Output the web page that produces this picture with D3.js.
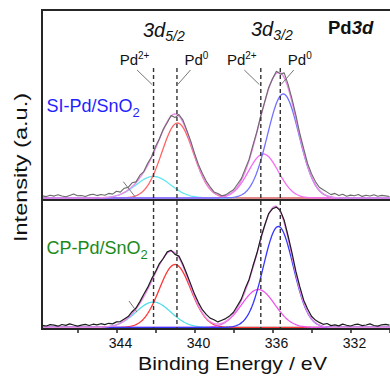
<!DOCTYPE html>
<html>
<head>
<style>
  body {
    margin: 0;
    background-color: #ffffff;
  }

  text {
    font-family: "Liberation Sans", Arial, sans-serif;
  }
</style>
  <script src="https://d3js.org/d3.v7.min.js"></script>
</head>
<body>
<script>
// Pd 3d XPS spectra, SI-Pd/SnO2 (top) and CP-Pd/SnO2 (bottom)

// raw spectra, binding energy starts at 347.8 eV, 0.2 eV per point
const eStart = 347.8;
const eStep = 0.2;

const siRaw = [
  2.1, 1.4, 2.8, 1.9, 3.2, 2.0, 1.2, 2.6, 3.9, 2.2,
  2.5, 1.5, 3.1, 3.8, 2.4, 3.5, 2.7, 4.6, 3.9, 6.8,
  5.9, 9.8, 10.6, 15.2, 16.1, 22.8, 26.4, 34.8, 41.2, 51.5,
  59.3, 68.9, 75.2, 82.6, 80.4, 83.5, 78.2, 68.1, 57.4, 44.9,
  33.6, 24.8, 16.9, 11.2, 6.1, 4.4, 2.2, 3.1, 5.7, 8.3,
  13.8, 19.4, 29.1, 38.6, 53.2, 66.4, 82.5, 96.1, 110.3, 119.2,
  126.8, 123.9, 125.1, 113.6, 99.2, 82.8, 64.5, 49.3, 34.6, 24.2,
  16.4, 10.8, 8.2, 5.9, 3.4, 4.6, 2.5, 3.7, 1.8, 2.9,
  2.2, 3.5, 1.6, 2.8, 2.0, 3.3, 1.7, 2.6, 2.1, 1.5
];

const cpRaw = [
  2.2, 1.5, 2.9, 2.4, 1.3, 3.0, 2.1, 3.6, 2.5, 1.4,
  2.3, 3.1, 2.0, 3.3, 2.6, 3.8, 2.9, 4.2, 3.6, 5.6,
  5.9, 8.4, 10.9, 15.8, 19.5, 25.9, 33.2, 40.1, 48.6, 55.8,
  63.9, 69.0, 75.6, 77.2, 73.1, 71.4, 63.5, 53.8, 43.6, 33.4,
  24.9, 17.8, 13.1, 9.4, 7.8, 5.6, 7.2, 8.9, 11.6, 15.3,
  21.8, 28.4, 38.9, 48.1, 61.7, 74.2, 89.6, 102.3, 113.9, 118.7,
  120.4, 116.9, 107.2, 91.5, 74.6, 56.1, 40.8, 27.3, 18.5, 11.2,
  7.4, 5.1, 3.2, 4.0, 1.9, 2.7, 1.6, 3.4, 2.2, 1.5,
  2.8, 3.3, 1.9, 2.5, 3.6, 2.0, 1.4, 2.7, 3.1, 2.3
];

// fitted components: Pd2+ 3d5/2, Pd0 3d5/2, Pd2+ 3d3/2, Pd0 3d3/2
const peakNames = ['Pd2+ 3d5/2', 'Pd0 3d5/2', 'Pd2+ 3d3/2', 'Pd0 3d3/2'];
const siCentres = [342.11, 340.87, 336.47, 335.45];
const siHeights = [21.6, 75, 44, 104];
const siFwhm = [2.1, 1.9, 1.8, 1.9];
const cpCentres = [342.11, 341.0, 336.73, 335.70];
const cpHeights = [25.5, 63, 38, 101];
const cpFwhm = [2.1, 1.9, 2.0, 1.8];

// reference positions (dashed lines)
const refEnergies = [342.1, 340.9, 336.6, 335.6];
const refLabels = ['2+', '0', '2+', '0'];

const xTicks = [346, 344, 342, 340, 338, 336, 334, 332, 330];
const xLabels = [344, 340, 336, 332];

// small pointer lines near the low-energy shoulder [E, intensity]
const siPointer = [[343.65, 16.3], [343.05, 1.3]];
const cpPointer = [[343.36, 26.5], [342.95, 15.5]];

const width = 390;
const height = 376;
const frame = { left: 42, top: 10, mid: 200, bottom: 329 };

const svg = d3.select('body')
  .append('svg')
  .attr('width', width)
  .attr('height', height);

const x = d3.scaleLinear().domain([344, 332]).range([116.5, 350.5]);
const yTop = d3.scaleLinear().domain([0, 188]).range([198, 10]);
const yBot = d3.scaleLinear().domain([0, 127.5]).range([327.5, 200]);

const topColors = ['#66e6f2', '#ff6464', '#f56cf5', '#7272ff'];
const botColors = ['#52dce8', '#ff3636', '#ee55ee', '#3636ff'];

const gauss = (e, c, h, w) => h * Math.exp(-4 * Math.LN2 * (e - c) * (e - c) / (w * w));

const fineE = d3.range(347.85, 329.9, -0.05);

const clip = (id, y0, y1) => {
  svg.append('clipPath').attr('id', id)
    .append('rect')
    .attr('x', frame.left).attr('y', y0)
    .attr('width', width - frame.left).attr('height', y1 - y0);
};
clip('clipTop', frame.top, frame.mid);
clip('clipBot', frame.mid, frame.bottom);

const drawPanel = (raw, centres, heights, fwhm, y, clipId, colors, dataColor, dataWidth) => {
  const g = svg.append('g').attr('clip-path', `url(#${clipId})`);
  const line = d3.line().x(d => x(d[0])).y(d => y(d[1]));

  centres.forEach((c, i) => {
    const pts = fineE.map(e => [e, gauss(e, c, heights[i], fwhm[i])]);
    g.append('path')
      .attr('d', line(pts))
      .attr('fill', 'none')
      .attr('stroke', colors[i])
      .attr('stroke-width', 1.3);
  });

  const sum = fineE.map(e => [e, d3.sum(centres, (c, i) => gauss(e, c, heights[i], fwhm[i]))]);
  g.append('path')
    .attr('d', line(sum))
    .attr('fill', 'none')
    .attr('stroke', '#ea8aea')
    .attr('stroke-width', 1.4);

  const pts = raw.map((v, i) => [eStart - eStep * i, v]);
  g.append('path')
    .attr('d', line(pts))
    .attr('fill', 'none')
    .attr('stroke', dataColor)
    .attr('stroke-width', dataWidth)
    .attr('stroke-linejoin', 'round');
};

drawPanel(siRaw, siCentres, siHeights, siFwhm, yTop, 'clipTop', topColors, '#6a6a6a', 1.1);
drawPanel(cpRaw, cpCentres, cpHeights, cpFwhm, yBot, 'clipBot', botColors, '#1c1c1c', 1.2);

// pointer lines
const pointer = (p, y) => {
  svg.append('line')
    .attr('x1', x(p[0][0])).attr('y1', y(p[0][1]))
    .attr('x2', x(p[1][0])).attr('y2', y(p[1][1]))
    .attr('stroke', '#777').attr('stroke-width', 1);
};
pointer(siPointer, yTop);
pointer(cpPointer, yBot);

// dashed reference lines and labels
refEnergies.forEach((e, i) => {
  const xe = x(e);
  svg.append('line')
    .attr('x1', xe).attr('x2', xe)
    .attr('y1', 68).attr('y2', frame.bottom)
    .attr('stroke', '#333')
    .attr('stroke-width', 1.4)
    .attr('stroke-dasharray', '4,3');

  const left = refLabels[i] === '2+';
  svg.append('line')
    .attr('x1', left ? xe - 16.5 : xe + 13.5).attr('y1', 70)
    .attr('x2', left ? xe - 1.5 : xe + 0.8).attr('y2', 84.5)
    .attr('stroke', '#777').attr('stroke-width', 1);

  const t = svg.append('text')
    .attr('x', left ? xe - 19 : xe + 19.5)
    .attr('y', 64.5)
    .attr('text-anchor', 'middle')
    .attr('font-size', 15)
    .attr('fill', '#111');
  t.append('tspan').text('Pd');
  t.append('tspan').attr('dy', -6).attr('font-size', 10).text(refLabels[i]);
});

// frame
const frameLine = (x1, y1, x2, y2) => {
  svg.append('line')
    .attr('x1', x1).attr('y1', y1).attr('x2', x2).attr('y2', y2)
    .attr('stroke', '#262626').attr('stroke-width', 2);
};
frameLine(frame.left, frame.top, width, frame.top);
frameLine(frame.left, frame.mid, width, frame.mid);
frameLine(frame.left, frame.top - 1, frame.left, frame.bottom + 1);

// x axis
const axis = svg.append('g')
  .attr('transform', `translate(0,${frame.bottom})`)
  .call(d3.axisBottom(x)
    .tickValues(xTicks)
    .tickSize(4)
    .tickFormat(d => xLabels.includes(d) ? d : ''));

axis.select('.domain')
  .attr('stroke', '#262626')
  .attr('stroke-width', 2)
  .attr('d', `M${frame.left},0H${width}`);
axis.selectAll('.tick line').attr('stroke', '#262626').attr('stroke-width', 1.5);
axis.selectAll('.tick text')
  .attr('font-family', '"Liberation Sans", Arial, sans-serif')
  .attr('font-size', 14)
  .attr('fill', '#111')
  .attr('y', 9)
  .attr('dx', 3.5);

// axis titles
svg.append('text')
  .attr('x', 232.5).attr('y', 370)
  .attr('text-anchor', 'middle')
  .attr('font-size', 19)
  .attr('textLength', 189)
  .attr('lengthAdjust', 'spacingAndGlyphs')
  .attr('fill', '#111')
  .text('Binding Energy / eV');

svg.append('text')
  .attr('transform', 'translate(26.5,167.5) rotate(-90)')
  .attr('text-anchor', 'middle')
  .attr('font-size', 19)
  .attr('textLength', 149)
  .attr('lengthAdjust', 'spacingAndGlyphs')
  .attr('fill', '#111')
  .text('Intensity (a.u.)');

// sample labels
const sampleLabel = (label, xPos, yPos, color) => {
  const t = svg.append('text')
    .attr('x', xPos).attr('y', yPos)
    .attr('font-size', 18)
    .attr('fill', color);
  t.append('tspan').text(label);
  t.append('tspan').attr('dy', 5).attr('font-size', 13).text('2');
};
sampleLabel('SI-Pd/SnO', 46.5, 111.5, '#1f1fff');
sampleLabel('CP-Pd/SnO', 46.5, 253.5, '#1a8a1a');

// spin-orbit labels
const orbital = (sub, xPos, yPos) => {
  const t = svg.append('text')
    .attr('x', xPos).attr('y', yPos)
    .attr('font-size', 20)
    .attr('font-style', 'italic')
    .attr('fill', '#111');
  t.append('tspan').text('3d');
  t.append('tspan').attr('dy', 4).attr('font-size', 14).text(sub);
};
orbital('5/2', 143, 37);
orbital('3/2', 251, 36);

const title = svg.append('text')
  .attr('x', 328).attr('y', 33.5)
  .attr('font-size', 18.5)
  .attr('font-weight', 'bold')
  .attr('fill', '#111');
title.append('tspan').text('Pd');
title.append('tspan').attr('font-style', 'italic').text('3d');
</script>
</body>
</html>
